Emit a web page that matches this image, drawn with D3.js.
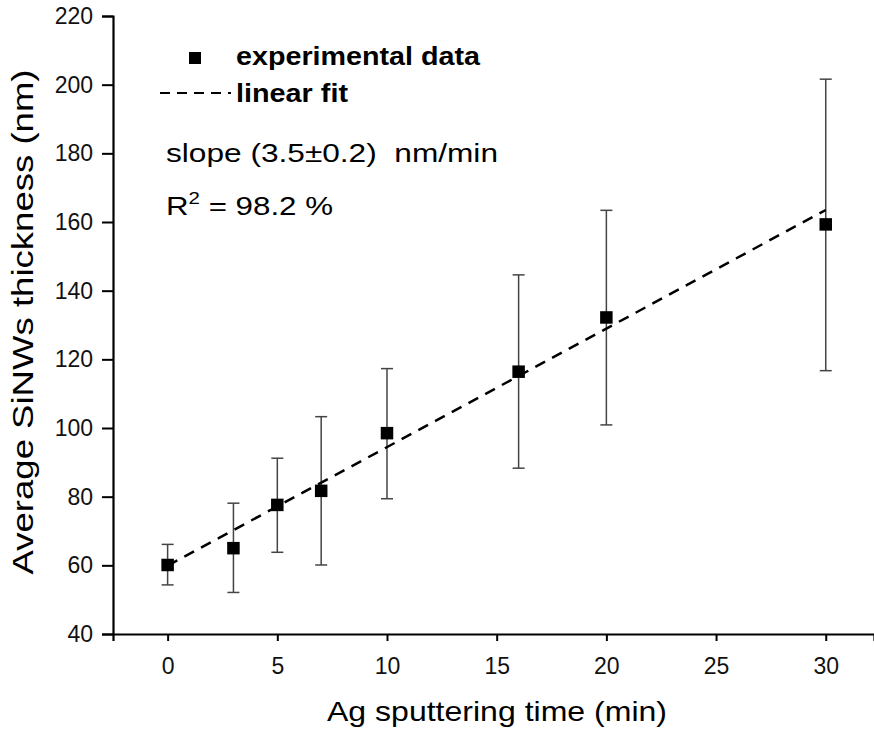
<!DOCTYPE html>
<html>
<head>
<meta charset="utf-8">
<script src="https://cdn.jsdelivr.net/npm/d3@7"></script>
<style>
  body { margin: 0; background: #fff; }
  svg { display: block; font-family: "Liberation Sans", Arial, sans-serif; }
  text { white-space: pre; }
</style>
</head>
<body>
<svg id="chart" width="874" height="736"></svg>
<script>
// ---- data ----
var time      = [0, 3, 5, 7, 10, 16, 20, 30];            // Ag sputtering time (min)
var thickness = [60.1, 65.0, 77.6, 81.7, 98.5, 116.4, 132.2, 159.3]; // nm
var errTop    = [66.1, 78.1, 91.2, 103.3, 117.3, 144.6, 163.4, 201.6];
var errBottom = [54.3, 52.1, 63.8, 60.1, 79.4, 88.3, 100.9, 116.7];

var fitX = [0, 30];          // linear fit end points
var fitY = [59.9, 163.5];

var xTicks = [0, 5, 10, 15, 20, 25, 30];
var xMinor = [2.5, 7.5, 12.5, 17.5, 22.5, 27.5];
var yTicks = [40, 60, 80, 100, 120, 140, 160, 180, 200, 220];
var yMinor = [50, 70, 90, 110, 130, 150, 170, 190, 210];

var svg = d3.select("#chart");

// scales (axis box runs from x=113 to right edge, y 16..634)
var x = d3.scaleLinear().domain([-2.49, 32.2]).range([113, 874]);
var y = d3.scaleLinear().domain([40, 220]).range([634, 16]);

//--------------------------------- axes ---------------------------------//
var gx = svg.append("g").attr("transform", "translate(0,634)");
gx.call(d3.axisBottom(x).tickValues(xMinor).tickSize(4).tickFormat(""));
gx.call(d3.axisBottom(x).tickValues(xTicks).tickSize(7).tickPadding(17).tickFormat(d3.format("d")));

var gy = svg.append("g").attr("transform", "translate(113,0)");
gy.call(d3.axisLeft(y).tickValues(yMinor).tickSize(5).tickFormat(""));
gy.call(d3.axisLeft(y).tickValues(yTicks).tickSize(11).tickPadding(9).tickFormat(d3.format("d")));

svg.selectAll(".domain").attr("stroke", "#000").attr("stroke-width", 2.2);
svg.selectAll(".tick line").attr("stroke", "#000").attr("stroke-width", 2);
svg.selectAll(".tick text")
    .attr("font-family", "'Liberation Sans', Arial, sans-serif")
    .attr("font-size", 23)
    .attr("fill", "#111");

// axis titles
svg.append("text")
    .attr("x", 497).attr("y", 721)
    .attr("text-anchor", "middle")
    .attr("font-size", 28)
    .attr("textLength", 340).attr("lengthAdjust", "spacingAndGlyphs")
    .text("Ag sputtering time (min)");

svg.append("text")
    .attr("transform", "translate(33,322) rotate(-90)")
    .attr("text-anchor", "middle")
    .attr("font-size", 29)
    .attr("textLength", 505).attr("lengthAdjust", "spacingAndGlyphs")
    .text("Average SiNWs thickness (nm)");

//--------------------------------- error bars ---------------------------------//
var pts = time.map(function (t, i) {
    return { t: t, v: thickness[i], hi: errTop[i], lo: errBottom[i] };
});

var eb = svg.append("g").attr("stroke", "#444").attr("stroke-width", 1.5);
pts.forEach(function (d) {
    var cx = x(d.t);
    eb.append("line").attr("x1", cx).attr("x2", cx).attr("y1", y(d.hi)).attr("y2", y(d.lo));
    eb.append("line").attr("x1", cx - 6).attr("x2", cx + 6).attr("y1", y(d.hi)).attr("y2", y(d.hi));
    eb.append("line").attr("x1", cx - 6).attr("x2", cx + 6).attr("y1", y(d.lo)).attr("y2", y(d.lo));
});

// fit line
svg.append("path")
    .datum(fitX.map(function (t, i) { return [t, fitY[i]]; }))
    .attr("d", d3.line().x(function (d) { return x(d[0]); }).y(function (d) { return y(d[1]); }))
    .attr("fill", "none")
    .attr("stroke", "#000")
    .attr("stroke-width", 2.5)
    .attr("stroke-dasharray", "11,8");

// squares
var sq = 12.5;
svg.append("g").selectAll("rect")
    .data(pts)
  .enter().append("rect")
    .attr("x", function (d) { return x(d.t) - sq / 2; })
    .attr("y", function (d) { return y(d.v) - sq / 2; })
    .attr("width", sq).attr("height", sq)
    .attr("fill", "#000");

//--------------------------------- legend / notes ---------------------------------//
svg.append("rect").attr("x", 189).attr("y", 52).attr("width", 12).attr("height", 12).attr("fill", "#000");
svg.append("text")
    .attr("x", 236).attr("y", 65)
    .attr("font-size", 25).attr("font-weight", "bold")
    .attr("textLength", 244).attr("lengthAdjust", "spacingAndGlyphs")
    .text("experimental data");

svg.append("line")
    .attr("x1", 160).attr("x2", 231).attr("y1", 93).attr("y2", 93)
    .attr("stroke", "#000").attr("stroke-width", 2)
    .attr("stroke-dasharray", "10,7");
svg.append("text")
    .attr("x", 236).attr("y", 102)
    .attr("font-size", 25).attr("font-weight", "bold")
    .attr("textLength", 112).attr("lengthAdjust", "spacingAndGlyphs")
    .text("linear fit");

svg.append("text")
    .attr("x", 166).attr("y", 162)
    .attr("font-size", 25)
    .attr("textLength", 332).attr("lengthAdjust", "spacingAndGlyphs")
    .text("slope (3.5\u00B10.2)  nm/min");

var r2 = svg.append("text")
    .attr("x", 166).attr("y", 215)
    .attr("font-size", 26)
    .attr("textLength", 167).attr("lengthAdjust", "spacingAndGlyphs");
r2.append("tspan").text("R");
r2.append("tspan").attr("font-size", 17).attr("dy", -11).text("2");
r2.append("tspan").attr("dy", 11).text(" = 98.2 %");
</script>
</body>
</html>
